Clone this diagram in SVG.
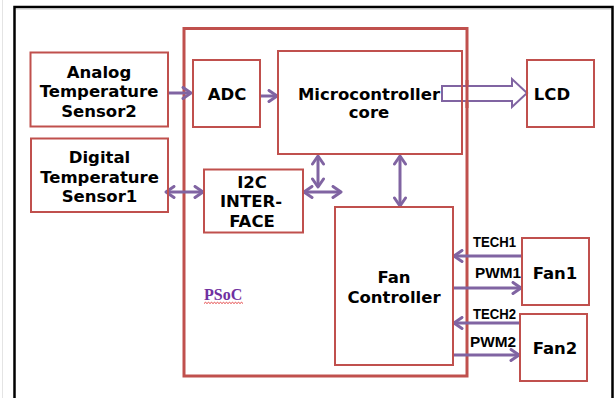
<svg xmlns="http://www.w3.org/2000/svg" width="616" height="398" viewBox="0 0 616 398">
<style>
.box{fill:none;stroke:#c0504d;stroke-width:2}
.psoc{fill:none;stroke:#c0504d;stroke-width:3}
.t{font-family:"DejaVu Sans",Verdana,sans-serif;font-weight:bold;font-size:16.5px;fill:#000;text-anchor:middle}
.lbl{font-family:"Liberation Sans",Arial,sans-serif;font-weight:bold;font-size:15px;fill:#000}
.c{fill:none;stroke:#8064a2;stroke-width:3}
</style>
<defs>
<marker id="ah" viewBox="0 0 12 14" refX="10" refY="7" markerWidth="12" markerHeight="14" markerUnits="userSpaceOnUse" orient="auto-start-reverse">
<path d="M2,1.5 L10,7 L2,12.5" fill="none" stroke="#8064a2" stroke-width="3" stroke-linecap="round" stroke-linejoin="round"/>
</marker>
</defs>
<rect width="616" height="398" fill="#fff"/>
<line x1="2.5" y1="0" x2="2.5" y2="398" stroke="#e4e4e4" stroke-width="1"/>
<rect x="14.5" y="7" width="598" height="410" fill="none" stroke="#000" stroke-width="2.5"/>
<line x1="16" y1="9.5" x2="611" y2="9.5" stroke="#e0e0e0" stroke-width="1"/>

<g id="psoc">
<rect class="psoc" x="184" y="28.5" width="283" height="347.5"/>
<text x="204" y="300" font-family="'Liberation Serif','Times New Roman',serif" font-weight="bold" font-size="16" fill="#7030a0">PSoC</text>
<path d="M204,303.5 l1.5,-1.2 l1.5,1.2 l1.5,-1.2 l1.5,1.2 l1.5,-1.2 l1.5,1.2 l1.5,-1.2 l1.5,1.2 l1.5,-1.2 l1.5,1.2 l1.5,-1.2 l1.5,1.2 l1.5,-1.2 l1.5,1.2 l1.5,-1.2 l1.5,1.2 l1.5,-1.2 l1.5,1.2 l1.5,-1.2 l1.5,1.2 l1.5,-1.2 l1.5,1.2 l1.5,-1.2 l1.5,1.2 l1.5,-1.2 l1.5,1.2" fill="none" stroke="#e03030" stroke-width="0.9"/>
</g>

<g id="connectors">
<path class="c" d="M168,93 L191,93" marker-end="url(#ah)"/>
<path class="c" d="M259,96 L277,96" marker-end="url(#ah)"/>
<path class="c" d="M166,192 L203,192" marker-start="url(#ah)" marker-end="url(#ah)"/>
<path class="c" d="M304,192 L341,192" marker-start="url(#ah)" marker-end="url(#ah)"/>
<path class="c" d="M318,156 L318,187" marker-start="url(#ah)" marker-end="url(#ah)"/>
<path class="c" d="M400,156 L400,206" marker-start="url(#ah)" marker-end="url(#ah)"/>
<path class="c" d="M522,256 L454,256" marker-end="url(#ah)"/>
<path class="c" d="M453,288 L521,288" marker-end="url(#ah)"/>
<path class="c" d="M520,323 L454,323" marker-end="url(#ah)"/>
<path class="c" d="M453,355 L519,355" marker-end="url(#ah)"/>
<text class="lbl" x="473" y="247" textLength="43" lengthAdjust="spacingAndGlyphs">TECH1</text>
<text class="lbl" x="475" y="278" textLength="46" lengthAdjust="spacingAndGlyphs">PWM1</text>
<text class="lbl" x="473" y="319" textLength="43" lengthAdjust="spacingAndGlyphs">TECH2</text>
<text class="lbl" x="470" y="347" textLength="46" lengthAdjust="spacingAndGlyphs">PWM2</text>
</g>

<g id="analog">
<rect class="box" x="30.5" y="52.5" width="137.5" height="74"/>
<text class="t" x="99" y="78">Analog</text>
<text class="t" x="99" y="97">Temperature</text>
<text class="t" x="99" y="117">Sensor2</text>
</g>
<g id="digital">
<rect class="box" x="31" y="138.5" width="137" height="73.5"/>
<text class="t" x="99.5" y="163">Digital</text>
<text class="t" x="99.5" y="183">Temperature</text>
<text class="t" x="99.5" y="202">Sensor1</text>
</g>
<g id="adc">
<rect class="box" x="193" y="60" width="67" height="67"/>
<text class="t" x="227" y="100">ADC</text>
</g>
<g id="micro">
<rect class="box" x="278" y="51" width="184" height="103"/>
<text class="t" x="369" y="100">Microcontroller</text>
<text class="t" x="369" y="118">core</text>
<polygon points="442,86 512,86 512,79 527,93 512,107 512,101 442,101" fill="#fff" stroke="#8064a2" stroke-width="2"/>
<line x1="462" y1="80" x2="462" y2="108" stroke="#c0504d" stroke-width="2"/>
<line x1="467" y1="80" x2="467" y2="108" stroke="#c0504d" stroke-width="3"/>
</g>
<g id="lcd">
<rect class="box" x="527" y="60" width="67" height="67"/>
<text class="t" x="552" y="100">LCD</text>
</g>
<g id="i2c">
<rect class="box" x="204" y="169.5" width="99" height="63"/>
<text class="t" x="252" y="188">I2C</text>
<text class="t" x="251" y="207">INTER-</text>
<text class="t" x="252" y="227">FACE</text>
</g>
<g id="fanctrl">
<rect class="box" x="335" y="207" width="118" height="158"/>
<text class="t" x="394" y="283">Fan</text>
<text class="t" x="394" y="303">Controller</text>
</g>
<g id="fan1">
<rect class="box" x="522" y="238" width="67" height="67"/>
<text class="t" x="555" y="279">Fan1</text>
</g>
<g id="fan2">
<rect class="box" x="520" y="314" width="67" height="67"/>
<text class="t" x="555" y="354">Fan2</text>
</g>
</svg>
